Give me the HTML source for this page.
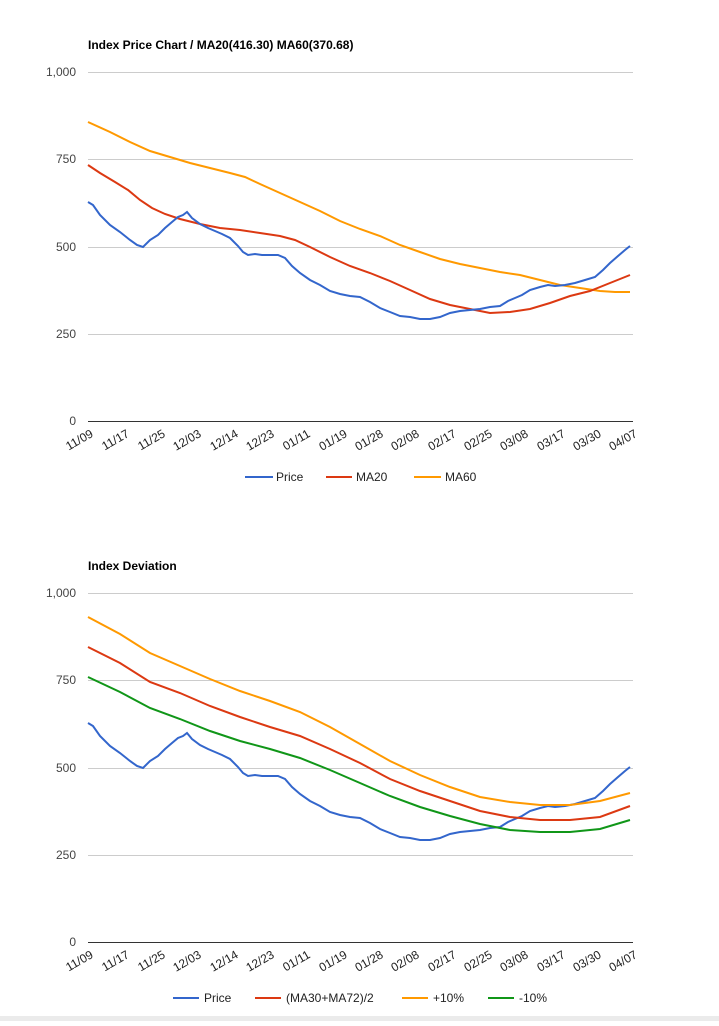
<!DOCTYPE html>
<html><head><meta charset="utf-8"><style>
body{margin:0;background:#fff;width:719px;height:1021px;overflow:hidden;font-family:"Liberation Sans",Arial,sans-serif}
</style></head><body>
<svg width="719" height="1021" xmlns="http://www.w3.org/2000/svg" font-family="Liberation Sans, Arial, sans-serif">
<rect x="0" y="1016" width="719" height="5" fill="#ebebeb"/>
<defs>
<g id="grid">
<g stroke="#ccc" stroke-width="1">
<line x1="88" x2="633" y1="72.5" y2="72.5"/><line x1="88" x2="633" y1="159.5" y2="159.5"/>
<line x1="88" x2="633" y1="247.5" y2="247.5"/><line x1="88" x2="633" y1="334.5" y2="334.5"/>
</g>
<line x1="88" x2="633" y1="421.5" y2="421.5" stroke="#333" stroke-width="1"/>
<g font-size="12" fill="#444" text-anchor="end">
<text x="76" y="76">1,000</text><text x="76" y="163">750</text><text x="76" y="251">500</text><text x="76" y="338">250</text><text x="76" y="425">0</text>
</g>
<g font-size="12" fill="#222" text-anchor="end">
<text transform="translate(94,436) rotate(-30)">11/09</text>
<text transform="translate(130,436) rotate(-30)">11/17</text>
<text transform="translate(166,436) rotate(-30)">11/25</text>
<text transform="translate(202,436) rotate(-30)">12/03</text>
<text transform="translate(239,436) rotate(-30)">12/14</text>
<text transform="translate(275,436) rotate(-30)">12/23</text>
<text transform="translate(311,436) rotate(-30)">01/11</text>
<text transform="translate(348,436) rotate(-30)">01/19</text>
<text transform="translate(384,436) rotate(-30)">01/28</text>
<text transform="translate(420,436) rotate(-30)">02/08</text>
<text transform="translate(457,436) rotate(-30)">02/17</text>
<text transform="translate(493,436) rotate(-30)">02/25</text>
<text transform="translate(529,436) rotate(-30)">03/08</text>
<text transform="translate(566,436) rotate(-30)">03/17</text>
<text transform="translate(602,436) rotate(-30)">03/30</text>
<text transform="translate(638,436) rotate(-30)">04/07</text>
</g>
</g>
<polyline id="price" fill="none" stroke="#3366cc" stroke-width="2" points="88,202 93,205 100,215 110,225 120,232 130,240 137,245 143,247 150,240 158,235 165,228 172,222 178,217 183,215 187,212 192,218 200,224 208,228 215,231 222,234 230,238 238,246 243,252 248,255 255,254 262,255 270,255 278,255 285,258 292,266 300,273 310,280 320,285 330,291 340,294 350,296 360,297 370,302 380,308 390,312 400,316 410,317 420,319 430,319 440,317 450,313 460,311 470,310 480,309 490,307 500,306 508,301 515,298 522,295 530,290 540,287 548,285 555,286 565,285 575,283 585,280 595,277 603,270 610,263 618,256 625,250 630,246"/>
</defs>
<text x="88" y="49" font-size="12" font-weight="bold" fill="#000">Index Price Chart / MA20(416.30) MA60(370.68)</text>
<use href="#grid"/>
<polyline fill="none" stroke="#ff9900" stroke-width="2" points="88,122 110,132 130,142 150,151 170,157 190,163 210,168 230,173 245,177 260,184 280,193 300,202 320,211 340,221 360,229 380,236 400,245 420,252 440,259 460,264 480,268 500,272 520,275 540,280 560,285 580,288 600,291 615,292 630,292"/>
<polyline fill="none" stroke="#dc3912" stroke-width="2" points="88,165 100,173 115,182 128,190 140,200 152,208 165,214 180,219 200,224 220,228 240,230 260,233 280,236 295,240 310,247 330,257 350,266 370,273 390,281 410,290 430,299 450,305 470,309 490,313 510,312 530,309 550,303 570,296 590,291 610,283 630,275"/>
<use href="#price"/>
<g font-size="12" fill="#222">
<line x1="245" x2="273" y1="477" y2="477" stroke="#3366cc" stroke-width="2"/><text x="276" y="481">Price</text>
<line x1="326" x2="352" y1="477" y2="477" stroke="#dc3912" stroke-width="2"/><text x="356" y="481">MA20</text>
<line x1="414" x2="441" y1="477" y2="477" stroke="#ff9900" stroke-width="2"/><text x="445" y="481">MA60</text>
</g>

<text x="88" y="570" font-size="12" font-weight="bold" fill="#000">Index Deviation</text>
<g transform="translate(0,521)">
<use href="#grid"/>
<use href="#price"/>
</g>
<polyline fill="none" stroke="#ff9900" stroke-width="2" points="88,617 120,634 150,653 180,666 210,679 240,691 270,701 300,712 330,727 360,744 390,761 420,775 450,787 480,797 510,802 540,805 570,805 600,801 630,793"/>
<polyline fill="none" stroke="#dc3912" stroke-width="2" points="88,647 120,663 150,682 180,693 210,706 240,717 270,727 300,736 330,749 360,763 390,779 420,791 450,801 480,811 510,817 540,820 570,820 600,817 630,806"/>
<polyline fill="none" stroke="#109618" stroke-width="2" points="88,677 120,692 150,708 180,719 210,731 240,741 270,749 300,758 330,770 360,783 390,796 420,807 450,816 480,824 510,830 540,832 570,832 600,829 630,820"/>
<g font-size="12" fill="#222">
<line x1="173" x2="199" y1="998" y2="998" stroke="#3366cc" stroke-width="2"/><text x="204" y="1002">Price</text>
<line x1="255" x2="281" y1="998" y2="998" stroke="#dc3912" stroke-width="2"/><text x="286" y="1002">(MA30+MA72)/2</text>
<line x1="402" x2="428" y1="998" y2="998" stroke="#ff9900" stroke-width="2"/><text x="433" y="1002">+10%</text>
<line x1="488" x2="514" y1="998" y2="998" stroke="#109618" stroke-width="2"/><text x="519" y="1002">-10%</text>
</g>
</svg>
</body></html>
